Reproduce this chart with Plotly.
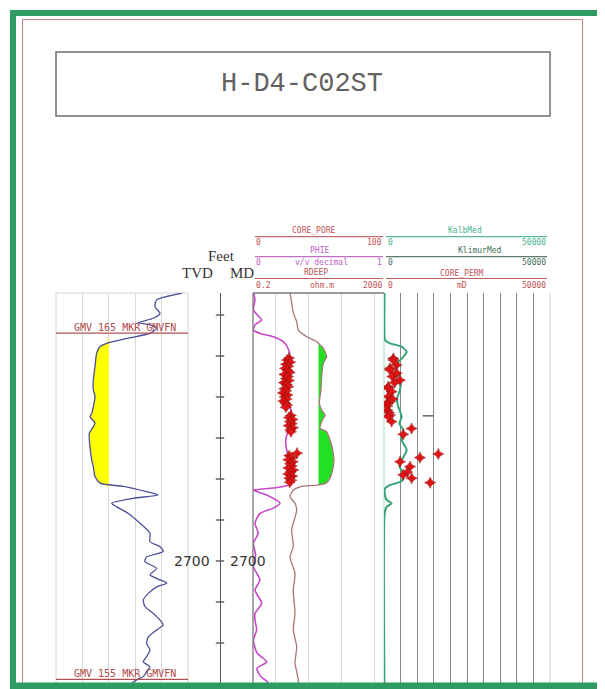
import numpy as np
import plotly.graph_objects as go

# The page body has an 8px default margin, so the figure is drawn 8px in
# from the top-left corner of the window; design coordinates are window pixels.
OFF = 8
W, H = 605 - OFF, 689 - OFF


def px(x):
    return (x - OFF) / W


def py(y):
    return 1 - (y - OFF) / H


# ---------------- data ----------------
gr_depth = [2634.7, 2636.3, 2638.0, 2639.6, 2640.8, 2641.9, 2642.4, 2643.2, 2644.5, 2645.7,
            2646.9, 2647.7, 2649.3, 2652.6, 2655.9, 2658.3, 2659.9, 2664.0, 2664.8, 2666.4,
            2668.9, 2672.1, 2675.4, 2677.0, 2679.4, 2681.0, 2681.9, 2683.1, 2683.9, 2684.7,
            2685.9, 2686.8, 2688.4, 2690.8, 2693.2, 2695.3, 2696.5, 2697.7, 2699.0, 2700.2,
            2701.8, 2703.4, 2704.6, 2705.4, 2706.3, 2707.9, 2709.5, 2711.1, 2712.8, 2714.4,
            2715.6, 2716.8, 2718.5, 2720.1, 2721.7, 2723.3, 2724.6, 2725.8, 2727.0, 2728.2,
            2729.0, 2730.0, 2731.2]
gr_values = [142.8, 114.4, 112.5, 118.2, 110.6, 93.2, 106.8, 114.4, 106.8, 80.3,
             57.6, 50.0, 46.2, 44.3, 42.4, 42.4, 44.3, 40.6, 38.6, 44.3,
             37.8, 38.6, 40.6, 42.4, 44.3, 50.0, 80.3, 103.0, 116.2, 87.8,
             63.3, 69.0, 82.2, 95.5, 106.8, 106.8, 118.2, 121.9, 103.0, 101.1,
             114.4, 106.8, 118.2, 125.8, 114.4, 104.9, 99.2, 101.1, 110.6, 118.2,
             121.9, 114.4, 104.9, 103.0, 106.8, 103.0, 99.2, 106.8, 103.0, 99.2,
             91.7, 85.0, 80.0]
gr_cutoff = 60

rd_depth = [2634.6, 2637.1, 2639.5, 2641.6, 2643.7, 2645.3, 2646.5, 2647.3, 2648.1, 2650.2,
            2651.8, 2655.0, 2658.3, 2661.5, 2663.2, 2664.4, 2666.0, 2667.6, 2668.5, 2670.5,
            2672.9, 2675.4, 2677.8, 2679.8, 2681.0, 2681.5, 2681.9, 2682.7, 2684.3, 2685.9,
            2687.6, 2692.4, 2696.5, 2699.0, 2703.0, 2707.1, 2712.8, 2716.8, 2720.9, 2724.9,
            2729.0, 2731.2]
rd_values = [2.70, 3.04, 3.40, 4.32, 4.83, 8.72, 17.6, 22.2, 28.0, 35.6,
             28.0, 25.0, 23.8, 21.2, 25.0, 31.6, 25.0, 22.2, 35.6, 44.9,
             54.3, 59.4, 54.3, 44.9, 33.9, 17.6, 5.45, 3.40, 2.70, 3.83,
             4.32, 3.04, 3.40, 2.70, 3.83, 3.40, 3.83, 3.40, 4.32, 3.83,
             4.83, 4.5]
rd_cutoff = 20

ph_depth = [2634.7, 2636.3, 2638.8, 2641.2, 2642.4, 2643.7, 2644.5, 2645.3, 2646.5, 2648.1,
            2649.8, 2652.2, 2655.9, 2659.5, 2663.2, 2665.6, 2668.0, 2669.5, 2671.5, 2673.3,
            2675.4, 2677.8, 2680.2, 2681.5, 2682.2, 2682.7, 2683.9, 2685.9, 2687.1, 2688.4,
            2690.8, 2693.2, 2695.7, 2698.5, 2701.4, 2704.6, 2707.1, 2710.3, 2712.8, 2714.4,
            2716.8, 2719.3, 2722.4, 2724.6, 2726.2, 2728.2, 2729.7, 2731.2]
ph_values = [0.005, 0.015, 0.003, 0.065, 0.015, 0.003, 0.053, 0.155, 0.231, 0.267,
             0.28, 0.26, 0.255, 0.25, 0.29, 0.295, 0.28, 0.255, 0.25, 0.26,
             0.285, 0.29, 0.29, 0.27, 0.155, 0.003, 0.105, 0.206, 0.155, 0.053,
             0.015, 0.04, 0.003, 0.02, 0.003, 0.053, 0.015, 0.066, 0.015, 0.015,
             0.028, 0.003, 0.03, 0.105, 0.03, 0.06, 0.115, 0.09]

cp_depth = [2650.5, 2651.0, 2651.5, 2652.0, 2652.5, 2653.0, 2653.5, 2654.0, 2654.5, 2655.0,
            2655.5, 2656.0, 2656.5, 2657.0, 2657.5, 2658.0, 2658.5, 2659.0, 2659.5, 2660.0,
            2660.5, 2661.0, 2661.5, 2662.0, 2662.5,
            2664.5, 2665.0, 2665.5, 2666.0, 2666.5, 2667.0, 2667.5, 2668.0, 2668.5,
            2673.7,
            2674.3, 2674.8, 2675.3, 2675.8, 2676.3, 2676.8, 2677.3, 2677.8, 2678.3, 2678.8,
            2679.3, 2679.8, 2680.3, 2680.8]
cp_values = [27.5, 26.0, 28.3, 25.2, 27.0, 24.5, 26.4, 28.0, 24.0, 26.8,
             25.1, 27.4, 23.6, 25.8, 26.9, 23.9, 25.4, 22.8, 26.3, 24.2,
             25.7, 23.1, 24.8, 26.0, 25.0,
             28.9, 27.4, 30.2, 28.1, 29.6, 27.2, 30.5, 28.4, 29.0,
             33.6,
             27.6, 29.8, 26.9, 30.4, 28.2, 29.5, 27.0, 30.8, 28.6, 26.8,
             29.9, 27.7, 29.2, 28.0]

ka_depth = [2634.6, 2645.1, 2646.1, 2646.9, 2647.7, 2649.0, 2650.2, 2651.5, 2653.0, 2654.2,
            2656.0, 2658.3, 2660.5, 2662.4, 2664.8, 2666.5, 2668.0, 2670.5, 2672.9, 2675.4,
            2677.0, 2678.6, 2680.5, 2681.5, 2682.3, 2683.5, 2685.1, 2685.9, 2686.8, 2688.4,
            2731.2]
ka_values = [150, 150, 300, 1800, 5300, 6840, 5800, 4300, 3500, 4300,
             5000, 4800, 3900, 4300, 5330, 4600, 5800, 5330, 6840, 5330,
             4700, 5800, 5330, 1800, 300, 200, 813, 2300, 813, 200,
             150]

kp_depth = [2650.6, 2651.0, 2652.2, 2653.0, 2653.4, 2654.2, 2655.0, 2655.9, 2656.5, 2657.5,
            2657.9, 2658.7, 2659.9, 2660.5, 2661.1, 2661.5, 2662.2, 2663.2, 2663.8, 2664.4,
            2664.8, 2666.0, 2667.7, 2669.1, 2673.9, 2674.8, 2675.8, 2677.0, 2678.3, 2679.0,
            2679.8, 2680.9]
kp_values = [2800, 2800, 3800, 1800, 1800, 3800, 2500, 4800, 3200, 1300,
             1300, 2300, 1300, 2600, 1800, 900, 1000, 1000, 1500, 1800,
             1300, 2300, 8300, 5800, 16350, 10840, 4820, 7830, 7000, 5800,
             8340, 13900]

klimur_depth = [2664.6, 2664.6]
klimur_values = [11650, 14850]

depth_ticks = [2640, 2650, 2660, 2670, 2680, 2690, 2700, 2710, 2720, 2730]
depth_label = 2700
marker_tops = [(2644.4, "GMV 165 MKR GMVFN"), (2728.85, "GMV 155 MKR GMVFN")]

# ---------------- geometry ----------------
TOP_Y = 293
BOT_Y = 689
depth_top = 2640 + (TOP_Y - 315) / 4.1
depth_bot = 2640 + (BOT_Y - 315) / 4.1

fig = go.Figure()

# Track 1: GR with sand shading
gr_arr = np.array(gr_values)
fig.add_trace(go.Scatter(x=[gr_cutoff] * len(gr_depth), y=gr_depth, xaxis="x", yaxis="y",
                         mode="lines", line=dict(width=0, color="rgba(0,0,0,0)"),
                         showlegend=False, hoverinfo="skip"))
fig.add_trace(go.Scatter(x=np.minimum(gr_arr, gr_cutoff), y=gr_depth, xaxis="x", yaxis="y",
                         mode="lines", line=dict(width=0, color="rgba(0,0,0,0)"),
                         fill="tonextx", fillcolor="#ffff00", showlegend=False, hoverinfo="skip"))
fig.add_trace(go.Scatter(x=gr_values, y=gr_depth, xaxis="x", yaxis="y", mode="lines",
                         line=dict(color="#4b4f96", width=1.3, shape="spline", smoothing=0.6),
                         showlegend=False))

# Depth track ticks
fig.add_trace(go.Scatter(x=[0] * len(depth_ticks), y=depth_ticks, xaxis="x2", yaxis="y",
                         mode="markers",
                         marker=dict(symbol="line-ew", size=6, line=dict(width=1.4, color="#555555")),
                         showlegend=False))

# Track 2: RDEEP (log) with pay shading
rd_arr = np.array(rd_values)
fig.add_trace(go.Scatter(x=[rd_cutoff] * len(rd_depth), y=rd_depth, xaxis="x3", yaxis="y",
                         mode="lines", line=dict(width=0, color="rgba(0,0,0,0)"),
                         showlegend=False, hoverinfo="skip"))
fig.add_trace(go.Scatter(x=np.maximum(rd_arr, rd_cutoff), y=rd_depth, xaxis="x3", yaxis="y",
                         mode="lines", line=dict(width=0, color="rgba(0,0,0,0)"),
                         fill="tonextx", fillcolor="#22e022", showlegend=False, hoverinfo="skip"))
fig.add_trace(go.Scatter(x=rd_values, y=rd_depth, xaxis="x3", yaxis="y", mode="lines",
                         line=dict(color="#a87878", width=1.3, shape="spline", smoothing=0.6),
                         showlegend=False))
# PHIE
fig.add_trace(go.Scatter(x=ph_values, y=ph_depth, xaxis="x4", yaxis="y", mode="lines",
                         line=dict(color="#c848c8", width=1.6, shape="spline", smoothing=0.6),
                         showlegend=False))
# CORE_PORE
fig.add_trace(go.Scatter(x=cp_values, y=cp_depth, xaxis="x5", yaxis="y", mode="markers",
                         marker=dict(symbol="star-diamond", size=8, color="#e01414",
                                     line=dict(width=0.5, color="#8a1010")),
                         showlegend=False))

# Track 3: permeability
fig.add_trace(go.Scatter(x=ka_values, y=ka_depth, xaxis="x6", yaxis="y", mode="lines",
                         line=dict(color="#34a577", width=2, shape="spline", smoothing=0.5),
                         showlegend=False))
fig.add_trace(go.Scatter(x=klimur_values, y=klimur_depth, xaxis="x6", yaxis="y", mode="lines",
                         line=dict(color="#444444", width=1.2), showlegend=False))
fig.add_trace(go.Scatter(x=kp_values, y=kp_depth, xaxis="x6", yaxis="y", mode="markers",
                         marker=dict(symbol="star-diamond", size=8, color="#e01414",
                                     line=dict(width=0.5, color="#8a1010")),
                         showlegend=False))

hidden = dict(showticklabels=False, ticks="", zeroline=False, showline=False, fixedrange=True)

fig.update_layout(
    width=W, height=H,
    margin=dict(l=0, r=0, t=0, b=0),
    paper_bgcolor="white", plot_bgcolor="rgba(0,0,0,0)",
    showlegend=False,
    xaxis=dict(domain=[px(56), px(188)], range=[0, 150], tickvals=[30, 60, 90, 120],
               showgrid=True, gridcolor="#d8d8d8", gridwidth=1, anchor="y", **hidden),
    yaxis=dict(domain=[0, py(TOP_Y)], range=[depth_bot, depth_top], showgrid=False,
               anchor="x", **hidden),
    xaxis2=dict(domain=[px(200), px(240)], range=[-1, 1], showgrid=False, anchor="y",
                showticklabels=False, ticks="", showline=False, fixedrange=True,
                zeroline=True, zerolinecolor="#555555", zerolinewidth=1.4),
    xaxis3=dict(type="log", domain=[px(253), px(384)],
                range=[np.log10(0.2), np.log10(2000)], tickvals=[1, 10, 100, 1000],
                showgrid=True, gridcolor="#d8d8d8", gridwidth=1, anchor="y", **hidden),
    xaxis4=dict(overlaying="x3", range=[0, 1], showgrid=False, anchor="y", **hidden),
    xaxis5=dict(overlaying="x3", range=[0, 100], showgrid=False, anchor="y", **hidden),
    xaxis6=dict(domain=[px(384), px(550)], range=[0, 50000],
                tickvals=[5000, 10000, 15000, 20000, 25000, 30000, 35000, 40000, 45000],
                showgrid=True, gridcolor="#888888", gridwidth=1.4, anchor="y", **hidden),
)

shapes = []


def pline(x0, y0, x1, y1, color, width=1, layer="above"):
    shapes.append(dict(type="line", xref="paper", yref="paper",
                       x0=px(x0), y0=py(y0), x1=px(x1), y1=py(y1),
                       line=dict(color=color, width=width), layer=layer))


# inner red border
pline(22.5, 19.5, 582.5, 19.5, "#c98585", 1)
pline(22.5, 19.5, 22.5, BOT_Y, "#c98585", 1)
pline(582.5, 19.5, 582.5, BOT_Y, "#c98585", 1)
# title box
shapes.append(dict(type="rect", xref="paper", yref="paper", x0=px(56), x1=px(550),
                   y0=py(116), y1=py(52), line=dict(color="#707070", width=1.5)))
# track borders
shapes.append(dict(type="rect", xref="paper", yref="paper", x0=px(56), x1=px(188),
                   y0=py(BOT_Y), y1=py(TOP_Y), line=dict(color="#d2d2d2", width=1), layer="below"))
pline(253, TOP_Y, 253, BOT_Y, "#7a7a7a", 1.3)
pline(253, TOP_Y, 384, TOP_Y, "#7a7a7a", 1.3)
pline(384, TOP_Y, 384, BOT_Y, "#a8d5bf", 1, "below")
pline(550, TOP_Y, 550, BOT_Y, "#d2d2d2", 1, "below")

# header lines
pline(255, 236.7, 383, 236.7, "#c86a6a", 1.2)
pline(386, 236.7, 547, 236.7, "#58b892", 1.2)
pline(255, 256.7, 383, 256.7, "#c070c0", 1.2)
pline(386, 256.7, 547, 256.7, "#5a7a6a", 1.2)
pline(255, 278.5, 383, 278.5, "#c06060", 1.2)
pline(386, 278.5, 547, 278.5, "#c06060", 1.2)

# formation marker lines (depth referenced)
for d, _ in marker_tops:
    shapes.append(dict(type="line", xref="paper", yref="y", x0=px(56), x1=px(188),
                       y0=d, y1=d, line=dict(color="#b05050", width=1.2)))

# green outer frame
GREEN = "#2f9a62"
shapes.append(dict(type="rect", xref="paper", yref="paper", x0=px(10), x1=px(16),
                   y0=py(BOT_Y), y1=py(10), fillcolor=GREEN, line=dict(width=0)))
shapes.append(dict(type="rect", xref="paper", yref="paper", x0=px(10), x1=1,
                   y0=py(16), y1=py(10), fillcolor=GREEN, line=dict(width=0)))
shapes.append(dict(type="rect", xref="paper", yref="paper", x0=px(10), x1=1,
                   y0=py(BOT_Y), y1=py(682.5), fillcolor=GREEN, line=dict(width=0)))

fig.update_layout(shapes=shapes)

ann = []
MONO = "DejaVu Sans Mono"


def label(x, y, text, color, size=8, anchor="center", family=MONO, yref="paper"):
    ann.append(dict(x=px(x), y=(py(y) if yref == "paper" else y), xref="paper", yref=yref,
                    text=text, showarrow=False, xanchor=anchor, yanchor="middle",
                    borderpad=0,
                    font=dict(family=family, size=size, color=color)))


label(302, 84, "H-D4-C02ST", "#626262", 27, family="Liberation Mono")
# header texts
RED, PUR, TEAL, DGRN = "#c05252", "#c060c8", "#46b48a", "#3f6f58"
label(314, 230, "CORE_PORE", RED)
label(255, 242.5, "0", RED, anchor="left")
label(383, 242.5, "100", RED, anchor="right")
label(465, 230, "KalbMed", TEAL)
label(387, 242.5, "0", TEAL, anchor="left")
label(547, 242.5, "50000", TEAL, anchor="right")
label(319, 250, "PHIE", PUR)
label(255, 262.5, "0", PUR, anchor="left")
label(321, 262.5, "v/v decimal", PUR)
label(383, 262.5, "1", PUR, anchor="right")
label(480, 250.5, "KlimurMed", DGRN)
label(387, 262.5, "0", DGRN, anchor="left")
label(547, 262.5, "50000", DGRN, anchor="right")
label(316, 272.5, "RDEEP", RED)
label(255, 285.5, "0.2", RED, anchor="left")
label(322, 285.5, "ohm.m", RED)
label(383, 285.5, "2000", RED, anchor="right")
label(462, 273, "CORE_PERM", RED)
label(387, 285.5, "0", RED, anchor="left")
label(462, 285.5, "mD", RED)
label(547, 285.5, "50000", RED, anchor="right")

SERIF = "Liberation Serif"
label(221, 256, "Feet", "#333333", 15, family=SERIF)
label(197, 273, "TVD", "#333333", 15, family=SERIF)
label(242, 273, "MD", "#333333", 15, family=SERIF)

label(211, depth_label, str(depth_label), "#333333", 14, anchor="right",
      family="DejaVu Sans", yref="y")
label(229, depth_label, str(depth_label), "#333333", 14, anchor="left",
      family="DejaVu Sans", yref="y")

for d, txt in marker_tops:
    ann.append(dict(x=px(125), y=d, xref="paper", yref="y", text=txt, showarrow=False,
                    xanchor="center", yanchor="bottom", yshift=-1, borderpad=0,
                    font=dict(family=MONO, size=10, color="#b04848")))

fig.update_layout(annotations=ann)

fig.write_html("out.html")
